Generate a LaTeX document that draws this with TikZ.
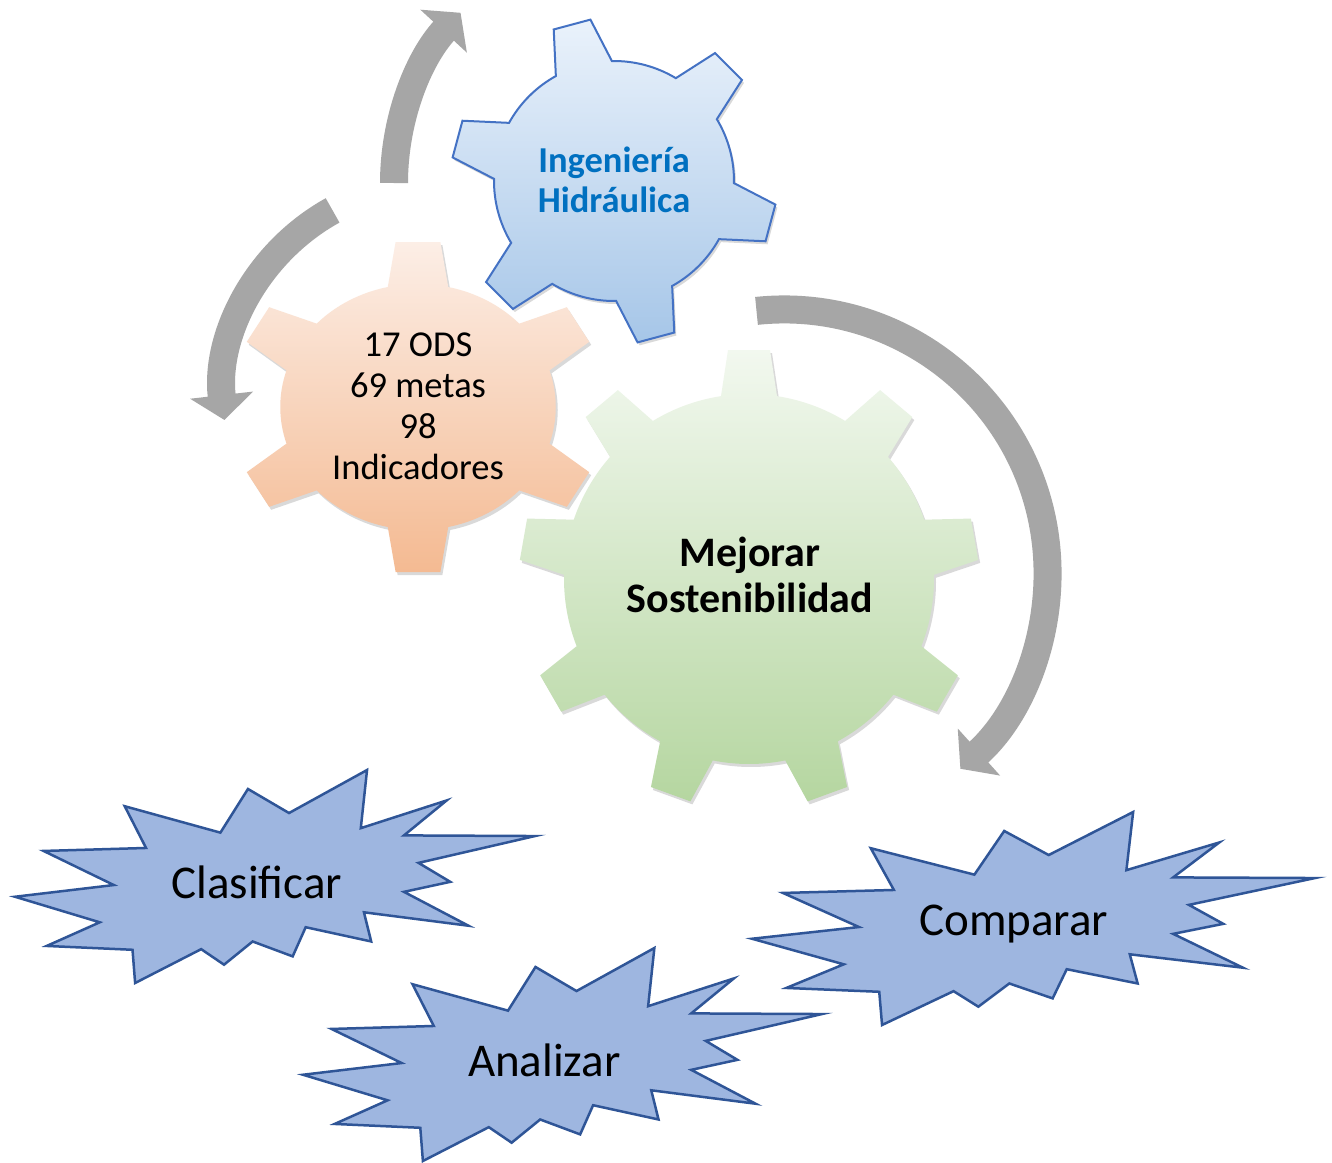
\documentclass[tikz,border=0pt]{standalone}
\usepackage{fontspec}
\setmainfont{Carlito}
\usetikzlibrary{arrows.meta,shadows}
\definecolor{starfill}{RGB}{158,182,224}
\definecolor{starline}{RGB}{47,85,151}
\definecolor{bluetop}{RGB}{234,242,251}
\definecolor{bluebot}{RGB}{166,198,232}
\definecolor{blueline}{RGB}{68,114,196}
\definecolor{orangetop}{RGB}{252,238,230}
\definecolor{orangebot}{RGB}{244,186,146}
\definecolor{greentop}{RGB}{242,248,239}
\definecolor{greenbot}{RGB}{181,214,160}
\definecolor{arrowgray}{RGB}{166,166,166}
\definecolor{titleblue}{RGB}{0,112,192}

% N, rotation, body radius, tip radius, base half width, tip half width, style
\newcommand\gearshape[7]{%
  \pgfmathsetmacro\gstep{360/#1}%
  \pgfmathsetmacro\gdb{asin(#5/#3)}%
  \pgfmathsetmacro\gdt{atan(#6/#4)}%
  \pgfmathsetmacro\gRt{#4/cos(\gdt)}%
  \pgfmathtruncatemacro\gNm{#1-1}%
  \path[#7] ({#2-\gdb}:#3)
    \foreach \k in {0,...,\gNm} {
      -- ({#2+\k*\gstep-\gdt}:\gRt) -- ({#2+\k*\gstep+\gdt}:\gRt)
      -- ({#2+\k*\gstep+\gdb}:#3)
      arc[start angle={#2+\k*\gstep+\gdb}, end angle={#2+(\k+1)*\gstep-\gdb}, radius=#3]
    } -- cycle;
}

% name, left, top, width, height, text
\newcommand\explosion[6]{%
  \begin{scope}[shift={(#2,-#3)}, xscale=#4, yscale=-#5]
    \draw[starshape] (0,0.595) -- (0.190,0.540) -- (0.055,0.380) -- (0.252,0.366)
      -- (0.211,0.170) -- (0.395,0.294) -- (0.448,0.089) -- (0.527,0.202)
      -- (0.677,0) -- (0.665,0.273) -- (0.830,0.143) -- (0.748,0.307)
      -- (1,0.310) -- (0.776,0.436) -- (0.837,0.525) -- (0.748,0.572)
      -- (0.872,0.731) -- (0.671,0.668) -- (0.685,0.805) -- (0.559,0.738)
      -- (0.534,0.875) -- (0.457,0.805) -- (0.402,0.914) -- (0.358,0.841)
      -- (0.231,1) -- (0.226,0.844) -- (0.061,0.826) -- (0.163,0.715) -- cycle;
    \node[startext] (#1) at (0.465,0.527) {#6};
  \end{scope}
}

\tikzset{
  starshape/.style={fill=starfill, draw=starline, line width=2.5pt, line join=miter},
  startext/.style={font=\fontsize{47}{56}\selectfont, text=black, inner sep=0pt},
  cycarrow/.style={draw=arrowgray, line width=28pt, -{Triangle[width=62pt,length=25pt]}},
  gearshadow/.style={drop shadow={shadow xshift=2pt, shadow yshift=-3pt, opacity=0.15, fill=black}},
  geartext/.style={align=center, inner sep=0pt}
}

\begin{document}
\begin{tikzpicture}[x=1pt,y=1pt]
\fill[white] (0,0) rectangle (1332,-1162);
\useasboundingbox (0,0) rectangle (1332,-1162);

% circular arrows
\coordinate (a1s) at (394,-183);
\coordinate (a2s) at (332.6,-210.4);
\coordinate (a3s) at (756.5,-310.9);
\draw[cycarrow] (a1s) arc[start angle=180, end angle=137.3, radius=251];
\draw[cycarrow] (a2s) arc[start angle=118.9, end angle=186.5, radius=212];
\draw[cycarrow] (a3s) arc[start angle=96, end angle=-48, radius=263.5];

% green gear
\coordinate (gG) at (749,-579);
\begin{scope}[shift={(gG)}]
  \gearshape{9}{90}{185}{229}{28}{21}{top color=greentop, bottom color=greenbot, gearshadow}
\end{scope}
% orange gear
\coordinate (gO) at (418,-407);
\begin{scope}[shift={(gO)}, xscale=1.12]
  \gearshape{6}{90}{123}{165}{27}{20}{top color=orangetop, bottom color=orangebot, gearshadow}
\end{scope}
% blue gear
\coordinate (gB) at (614,-181);
\begin{scope}[shift={(gB)}]
  \gearshape{6}{45}{120}{162}{29}{19}{top color=bluetop, bottom color=bluebot, draw=blueline, line width=2pt, line join=miter, gearshadow}
\end{scope}

\node[geartext, font=\bfseries\fontsize{36.5}{40}\selectfont, text=titleblue] (tB) at (614,-180) {Ingeniería\\Hidráulica};
\node[geartext, font=\fontsize{36.5}{41}\selectfont] (tO) at (418,-406) {17 ODS\\69 metas\\98\\Indicadores};
\node[geartext, font=\bfseries\fontsize{42}{46}\selectfont] (tG) at (750,-575) {Mejorar\\Sostenibilidad};

% explosions
\explosion{clas}{15}{770}{520}{213}{Clasificar}
\explosion{anal}{303}{948}{519}{213}{Analizar}
\explosion{comp}{752}{812}{563}{213}{Comparar}
\end{tikzpicture}
\end{document}
